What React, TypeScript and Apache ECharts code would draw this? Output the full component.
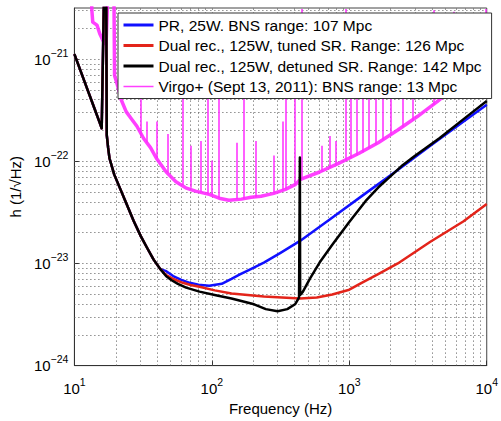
import React, { useEffect, useRef } from 'react';
import * as echarts from 'echarts';

const FONT = '"Liberation Sans", Arial, Helvetica, sans-serif';

// Axis range (plotted on log10 scales)
const X_MIN = 10;
const X_MAX = 10000;
const Y_MIN = 1e-24;
const Y_MAX = Math.pow(10, -20.5);
const xDecades = [10, 100, 1000];
const yDecades = [1e-24, 1e-23, 1e-22, 1e-21];
const gridMultipliers = [1, 2, 3, 4, 5, 6, 7, 8, 9];

// Legend names
const blueName = 'PR, 25W. BNS range: 107 Mpc';
const redName = 'Dual rec., 125W, tuned SR. Range: 126 Mpc';
const blackName = 'Dual rec., 125W, detuned SR. Range: 142 Mpc';
const virgoName = 'Virgo+ (Sept 13, 2011): BNS range: 13 Mpc';

// Shared low-frequency part of the three AdV curves (Hz, strain)
const commonFreq = [10, 12, 14, 15.2, 15.8, 16.6, 17.0, 17.2, 17.6, 18.0, 19.5, 21.9, 23.8, 27.0, 30.4, 34.0, 37.7, 42.2];
const commonH = [1.12e-21, 5.75e-22, 3.28e-22, 2.43e-22, 2.1e-22, 1e-20, 1e-20, 1.8e-22, 1.35e-22, 1.07e-22, 7.4e-23, 5.1e-23, 3.9e-23, 2.6e-23, 1.85e-23, 1.4e-23, 1.09e-23, 8.8e-24];

// PR, 25 W
const blueFreq = [46.6, 52.3, 60.0, 69.0, 80.0, 95.7, 118, 139, 160, 184, 239, 316, 438, 716, 1312, 2254, 3864, 6745, 10000];
const blueH = [8.4e-24, 7.52e-24, 6.9e-24, 6.46e-24, 6.2e-24, 6.04e-24, 6.31e-24, 7.05e-24, 7.8e-24, 8.57e-24, 1.02e-23, 1.27e-23, 1.66e-23, 2.68e-23, 4.85e-23, 8.2e-23, 1.41e-22, 2.43e-22, 3.57e-22];

// Dual recycled, tuned SR
const redFreq = [46.6, 53.0, 61.5, 70.0, 81.3, 105, 139, 239, 438, 580, 752, 1000, 1230, 1622, 2254, 3864, 6745, 10000];
const redH = [7.69e-24, 7.0e-24, 6.46e-24, 6.15e-24, 5.9e-24, 5.45e-24, 5.07e-24, 4.74e-24, 4.54e-24, 4.64e-24, 4.96e-24, 5.53e-24, 6.46e-24, 7.85e-24, 1.0e-23, 1.62e-23, 2.57e-23, 3.81e-23];

// Dual recycled, detuned SR
const blackFreq = [46.6, 51.0, 56.6, 65.0, 81.3, 109, 139, 203, 247, 301, 354, 403, 431, 437, 439, 460, 516, 608, 752, 993, 1312, 1622, 2009, 2443, 2974, 4550, 6745, 10000];
const blackH = [7.5e-24, 6.85e-24, 6.31e-24, 5.8e-24, 5.3e-24, 4.85e-24, 4.54e-24, 3.98e-24, 3.57e-24, 3.41e-24, 3.57e-24, 3.98e-24, 4.64e-24, 1.09e-22, 4.9e-24, 5.3e-24, 7.05e-24, 1.02e-23, 1.52e-23, 2.51e-23, 4.07e-23, 5.53e-23, 7.19e-23, 9.16e-23, 1.12e-22, 1.69e-22, 2.57e-22, 3.89e-22];

// Virgo+ measured sensitivity (broadband floor)
const virgoFreq = [13.0, 13.4, 13.6, 14.6, 15.3, 16.3, 17.0, 17.9, 19.3, 19.6, 20.6, 21.9, 23.8, 25.8, 28.5, 32.0, 35.8, 39.5, 46.6, 54.8, 64.5, 76.0, 95.7, 113, 133, 164, 193, 228, 282, 343, 403, 438, 475, 608, 843, 1170, 1622, 2254, 3126, 4335, 6010, 10000];
const virgoH = [1e-20, 3.0e-21, 2.3e-21, 2.15e-21, 1.77e-21, 1.48e-21, 1.4e-21, 1e-20, 1e-20, 6.9e-22, 5.5e-22, 4.0e-22, 3.06e-22, 2.63e-22, 2.2e-22, 1.66e-22, 1.36e-22, 1.07e-22, 7.85e-23, 6.3e-23, 5.5e-23, 5.1e-23, 4.74e-23, 4.35e-23, 4.16e-23, 4.26e-23, 4.45e-23, 4.54e-23, 4.85e-23, 5.3e-23, 5.9e-23, 6.6e-23, 6.9e-23, 7.85e-23, 9.6e-23, 1.19e-22, 1.52e-22, 2.02e-22, 2.74e-22, 3.81e-22, 5.5e-22, 9.8e-22];

// Virgo+ spectral lines (frequency, floor, peak)
const virgoLineFreq = [30.4, 33.6, 39.5, 48.1, 61.5, 70.2, 82.6, 92.7, 100.5, 113, 151, 170, 210, 282, 327, 343, 403, 453, 628, 716, 803, 946, 1026, 1132, 1250, 1377, 1545, 1762, 2009, 2443, 2877, 4121, 5715, 9800];
const virgoLineLow = [1.77e-22, 1.52e-22, 1.07e-22, 7.7e-23, 5.9e-23, 5.5e-23, 4.95e-23, 4.74e-23, 4.64e-23, 4.35e-23, 4.26e-23, 4.26e-23, 4.45e-23, 4.85e-23, 5.2e-23, 5.3e-23, 5.9e-23, 6.7e-23, 8.0e-23, 8.6e-23, 9.2e-23, 1.02e-22, 1.07e-22, 1.14e-22, 1.22e-22, 1.33e-22, 1.45e-22, 1.62e-22, 1.81e-22, 2.15e-22, 2.51e-22, 3.57e-22, 5.2e-22, 9.5e-22];
const virgoLineHigh = [1e-21, 2.45e-22, 2.45e-22, 1.85e-22, 1e-21, 1.42e-22, 1.58e-22, 1e-21, 1.02e-22, 1e-21, 1.52e-22, 1e-21, 1.58e-22, 1.14e-22, 2.45e-22, 1e-21, 1e-21, 3.1e-21, 1.42e-22, 1.77e-22, 1.58e-22, 3.1e-21, 1e-21, 1e-21, 1e-21, 1e-21, 1e-21, 1e-21, 1e-21, 1e-21, 1e-21, 3.0e-21, 2.9e-21, 3.1e-21];

const L = Math.log10;
const pairs = (f: number[], h: number[]) => f.map((v, i) => [L(v), L(h[i])]);

const supLabel = (v: number) => {
  const r = Math.round(v);
  if (Math.abs(v - r) > 1e-6) return '';
  return `{b|10}{s|${r < 0 ? '\u2212' + -r : r}}`;
};

const labelRich = {
  b: { fontSize: 15, lineHeight: 24, fontFamily: FONT, color: '#000' },
  s: { fontSize: 10.5, lineHeight: 11, verticalAlign: 'top', fontFamily: FONT, color: '#000' },
};

function buildOption() {
  const gridLines: any[] = [];
  xDecades.forEach((d) =>
    gridMultipliers.forEach((k) => {
      const v = k * d;
      if (v > X_MIN && v < X_MAX) gridLines.push({ coords: [[L(v), L(Y_MIN)], [L(v), L(Y_MAX)]] });
    })
  );
  yDecades.forEach((d) =>
    gridMultipliers.forEach((k) => {
      const v = k * d;
      if (v > Y_MIN * 1.0001 && v < Y_MAX) gridLines.push({ coords: [[L(X_MIN), L(v)], [L(X_MAX), L(v)]] });
    })
  );

  const virgoLines = virgoLineFreq.map((f, i) => ({
    coords: [[L(f), L(virgoLineLow[i])], [L(f), L(virgoLineHigh[i])]],
  }));

  const axisCommon = {
    type: 'value',
    interval: 1,
    nameLocation: 'middle',
    nameTextStyle: { fontSize: 15, fontFamily: FONT, color: '#000' },
    axisLine: { show: true, onZero: false, lineStyle: { color: '#333', width: 1 } },
    axisTick: { show: true, inside: true, length: 5, lineStyle: { color: '#333' } },
    splitLine: { show: false },
  };

  const magenta = '#ff2bff';
  const curve = (name: string, color: string, data: number[][]) => ({
    type: 'line',
    name,
    data,
    showSymbol: false,
    symbol: 'none',
    silent: true,
    z: 3,
    color,
    lineStyle: { color, width: 2.5, join: 'round' },
  });

  return {
    animation: false,
    backgroundColor: '#fff',
    grid: { left: 69, right: 10, top: 8, bottom: 45, show: true, borderColor: '#444', borderWidth: 1, backgroundColor: 'transparent' },
    xAxis: {
      ...axisCommon,
      min: L(X_MIN),
      max: L(X_MAX),
      name: 'Frequency (Hz)',
      nameGap: 29,
      axisLabel: { formatter: supLabel, margin: 11, rich: labelRich, showMaxLabel: true, showMinLabel: true },
    },
    yAxis: {
      ...axisCommon,
      min: L(Y_MIN),
      max: L(Y_MAX),
      name: 'h (1/\u221AHz)',
      nameGap: 46,
      axisLabel: { formatter: supLabel, margin: 6, rich: labelRich, showMaxLabel: false, showMinLabel: true },
    },
    legend: {
      orient: 'vertical',
      left: 118,
      top: 13,
      data: [
        { name: blueName, lineStyle: { width: 3 } },
        { name: redName, lineStyle: { width: 3 } },
        { name: blackName, lineStyle: { width: 3 } },
        { name: virgoName, lineStyle: { width: 1.5 } },
      ],
      backgroundColor: '#fff',
      borderColor: '#333',
      borderWidth: 1,
      borderRadius: 0,
      padding: [4, 10, 4, 4],
      itemGap: 4.5,
      itemWidth: 30,
      itemHeight: 16,
      selectedMode: false,
      itemStyle: { opacity: 0 },
      textStyle: { fontSize: 15.5, fontFamily: FONT, color: '#000', lineHeight: 16 },
      z: 20,
    },
    series: [
      {
        type: 'lines',
        name: 'grid',
        coordinateSystem: 'cartesian2d',
        silent: true,
        z: 1,
        lineStyle: { color: '#555', width: 1, type: [1, 3], opacity: 1 },
        data: gridLines,
      },
      {
        type: 'line',
        name: virgoName,
        data: pairs(virgoFreq, virgoH),
        showSymbol: false,
        symbol: 'none',
        silent: true,
        z: 2,
        color: magenta,
        lineStyle: { color: magenta, width: 3.5, opacity: 0.9, join: 'round' },
      },
      {
        type: 'lines',
        name: 'virgoLines',
        coordinateSystem: 'cartesian2d',
        silent: true,
        z: 2,
        lineStyle: { color: magenta, width: 1.5, opacity: 1 },
        data: virgoLines,
      },
      curve(blueName, '#1010ff', pairs(commonFreq, commonH).concat(pairs(blueFreq, blueH))),
      curve(redName, '#e3241a', pairs(commonFreq, commonH).concat(pairs(redFreq, redH))),
      curve(blackName, '#000', pairs(commonFreq, commonH).concat(pairs(blackFreq, blackH))),
    ],
  };
}

export default function App() {
  const ref = useRef<HTMLDivElement>(null);
  useEffect(() => {
    const chart = echarts.init(ref.current!, null, { renderer: 'svg' });
    chart.setOption(buildOption() as any);
    return () => chart.dispose();
  }, []);
  return <div ref={ref} style={{ position: 'fixed', left: 0, top: 0, width: 501, height: 421 }} />;
}
